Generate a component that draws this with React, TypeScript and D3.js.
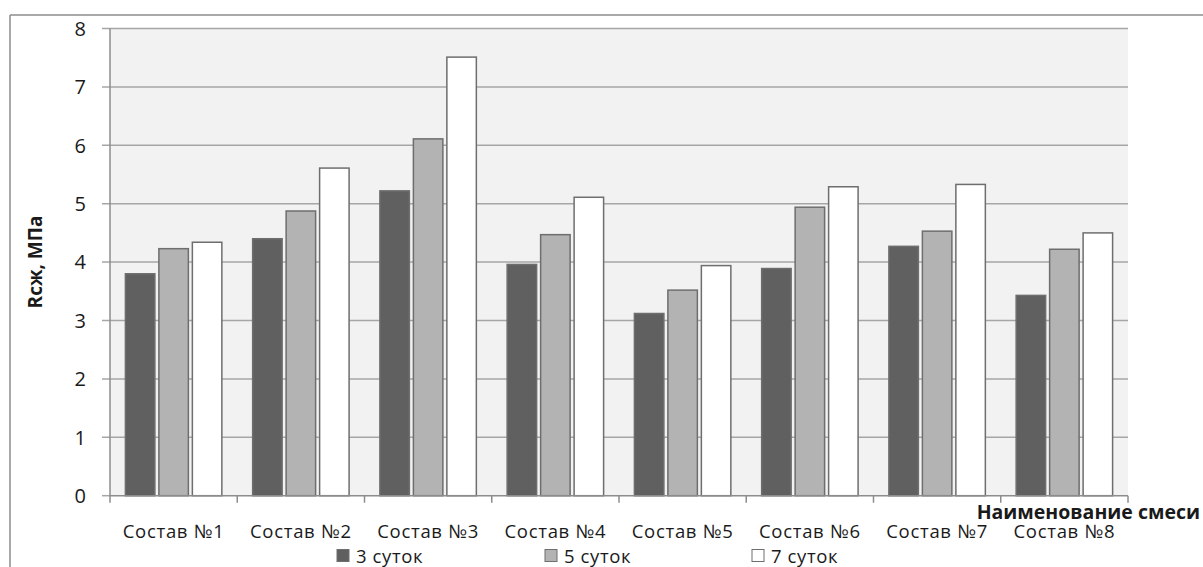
import React from "react";
import * as d3 from "d3";

const categories = ["Состав №1", "Состав №2", "Состав №3", "Состав №4", "Состав №5", "Состав №6", "Состав №7", "Состав №8"];
const seriesNames = ["3 суток", "5 суток", "7 суток"];
const days3 = [3.8, 4.4, 5.22, 3.96, 3.12, 3.89, 4.27, 3.43];
const days5 = [4.23, 4.875, 6.11, 4.47, 3.52, 4.94, 4.53, 4.22];
const days7 = [4.34, 5.61, 7.51, 5.11, 3.94, 5.29, 5.33, 4.5];
const yTicks = [0, 1, 2, 3, 4, 5, 6, 7, 8];
const colors = ["#606060", "#b3b3b3", "#ffffff"];

const W = 1203;
const H = 567;
const left = 110;
const right = 1128;
const top = 28.5;
const bottom = 495.7;
const FONT = "'Open Sans', sans-serif";

export default function App() {
  const series = [days3, days5, days7];
  const x0 = d3.scaleBand<string>().domain(categories).range([left, right]).padding(0);
  const bw = x0.bandwidth();
  const pad = 15.4;
  const x1 = d3
    .scaleBand<string>()
    .domain(seriesNames)
    .range([pad, bw - pad])
    .paddingInner(4 / 33.5)
    .paddingOuter(0);
  const y = d3.scaleLinear().domain([0, 8]).range([bottom, top]);

  const legendX = [337, 545, 752];

  return (
    <svg
      width={W}
      height={H}
      style={{ position: "fixed", left: 0, top: 0, background: "#fff" }}
      fontFamily={FONT}
    >
      <rect x={0} y={0} width={W} height={H} fill="#fff" />
      {/* outer chart border (cropped) */}
      <line x1={10} y1={15} x2={W} y2={15} stroke="#8c8c8c" strokeWidth={1.5} />
      <line x1={10} y1={15} x2={10} y2={H} stroke="#8c8c8c" strokeWidth={1.5} />

      {/* plot background */}
      <rect x={left} y={top} width={right - left} height={bottom - top} fill="#f2f2f2" />

      {/* grid lines */}
      {yTicks.map((t) => (
        <line
          key={"g" + t}
          x1={left - 8}
          x2={t === 0 ? left : right}
          y1={y(t)}
          y2={y(t)}
          stroke="#a6a6a6"
          strokeWidth={1.5}
        />
      ))}

      {/* bars */}
      {categories.map((c, i) => (
        <g key={c} transform={`translate(${x0(c)},0)`}>
          {seriesNames.map((s, j) => (
            <rect
              key={s}
              x={x1(s)}
              y={y(series[j][i])}
              width={x1.bandwidth()}
              height={bottom - y(series[j][i])}
              fill={colors[j]}
              stroke="#6e6e6e"
              strokeWidth={1.5}
            />
          ))}
        </g>
      ))}

      {/* axes */}
      <line x1={left} y1={top} x2={left} y2={bottom} stroke="#8c8c8c" strokeWidth={1.5} />
      <line x1={left} y1={bottom} x2={right} y2={bottom} stroke="#8c8c8c" strokeWidth={1.5} />
      {d3.range(categories.length + 1).map((k) => {
        const xx = left + k * bw;
        return <line key={"xt" + k} x1={xx} x2={xx} y1={bottom} y2={bottom + 7} stroke="#8c8c8c" strokeWidth={1.5} />;
      })}

      {/* y tick labels */}
      {yTicks.map((t) => (
        <text key={"yl" + t} x={86} y={y(t)} dy="0.36em" textAnchor="end" fontSize={20} fill="#1a1a1a">
          {t}
        </text>
      ))}

      {/* x tick labels */}
      {categories.map((c) => (
        <text
          key={"xl" + c}
          x={(x0(c) as number) + bw / 2}
          y={537.5}
          textAnchor="middle"
          fontSize={18.5}
          letterSpacing={0.7}
          fill="#1a1a1a"
        >
          {c}
        </text>
      ))}

      {/* axis titles */}
      <text
        transform={`translate(42,262) rotate(-90)`}
        textAnchor="middle"
        fontSize={19}
        fontWeight="bold"
        fill="#1a1a1a"
      >
        Rсж, МПа
      </text>
      <text x={1200} y={519} textAnchor="end" fontSize={19.5} fontWeight="bold" fill="#1a1a1a">
        Наименование смеси
      </text>

      {/* legend */}
      {seriesNames.map((s, j) => (
        <g key={"lg" + s} transform={`translate(${legendX[j]},549.5)`}>
          <rect x={0} y={0} width={12} height={12} fill={colors[j]} stroke="#6e6e6e" strokeWidth={1} />
          <text x={19} y={13} fontSize={18.5} letterSpacing={0.6} fill="#1a1a1a">
            {s}
          </text>
        </g>
      ))}
    </svg>
  );
}
